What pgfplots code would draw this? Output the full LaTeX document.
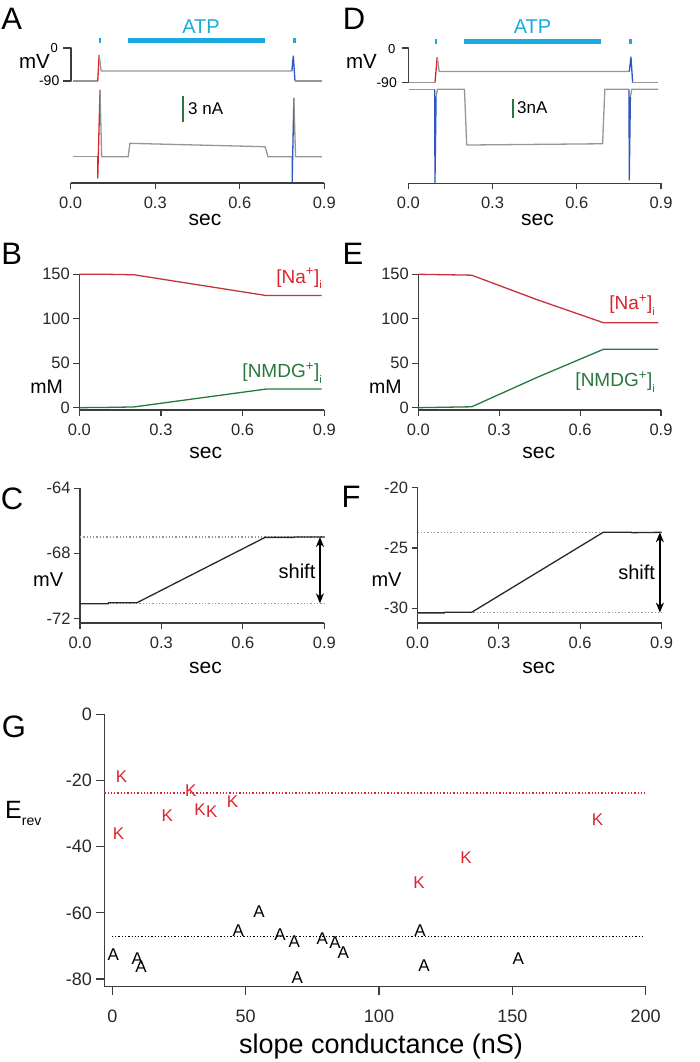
\documentclass[border=0pt]{standalone}
\usepackage{pgfplots}
\pgfplotsset{compat=1.18}
\usepackage{fontspec}
\setmainfont{Liberation Sans}
\usetikzlibrary{arrows.meta}
\definecolor{atp}{RGB}{28,170,222}
\definecolor{trc}{RGB}{150,150,150}
\definecolor{rd}{RGB}{218,36,44}
\definecolor{rdl}{RGB}{196,52,58}
\definecolor{bl}{RGB}{45,85,195}
\definecolor{gn}{RGB}{40,120,62}
\definecolor{axc}{RGB}{60,60,60}
\definecolor{dk}{RGB}{40,40,40}
\definecolor{dotg}{RGB}{150,150,150}
\newcommand{\fs}[1]{\fontsize{#1bp}{#1bp}\selectfont}
\pgfplotsset{
  panel/.style={scale only axis, anchor=south west, clip=false,
    axis x line*=bottom, axis y line*=left,
    axis line style={axc, line width=1.2bp},
    tick style={axc, line width=1.2bp},
    tick align=outside, major tick length=6bp,
    tick label style={text=dk, font=\fs{16.5}},
    xticklabel style={yshift=-4bp},
    xmin=0, xmax=0.9, xtick={0,0.3,0.6,0.9}, xticklabels={0.0,0.3,0.6,0.9},
    every axis plot/.append style={line width=1.3bp, mark=none, line join=round},
  },
  over/.style={scale only axis, anchor=south west, clip=false, hide axis,
    xmin=0, xmax=0.9,
    every axis plot/.append style={line width=1.3bp, mark=none, line join=round},
  },
}
\begin{document}
\begin{tikzpicture}
\useasboundingbox (0,0) rectangle (700bp,1062bp);
% ================= A =================
\begin{axis}[panel, at={(70.7bp,879bp)}, width=253.6bp, height=163bp,
  axis y line=none, ytick=\empty, ymin=-368.2, ymax=76.4]
  \addplot[trc] coordinates {(0.007,-90)(0.096,-90)};
  \addplot[rd] coordinates {(0.096,-90)(0.101,-19)};
  \addplot[trc] coordinates {(0.101,-19)(0.108,-62.7)(0.785,-62.7)};
  \addplot[bl] coordinates {(0.785,-62.7)(0.790,-21.8)(0.796,-90)};
  \addplot[trc] coordinates {(0.796,-90)(0.891,-90)};
  \addplot[atp, line width=5bp] coordinates {(0.204,19.1)(0.690,19.1)};
  \addplot[atp, line width=5bp] coordinates {(0.099,19.1)(0.106,19.1)};
  \addplot[atp, line width=5bp] coordinates {(0.790,19.1)(0.799,19.1)};
  \addplot[axc, line width=1.2bp] coordinates {(-0.027,0)(0.001,0)(0.001,-90)(-0.027,-90)};
\end{axis}
\begin{axis}[over, at={(70.7bp,879bp)}, width=253.6bp, height=163bp,
  ymin=-2.955, ymax=15.36]
  \addplot[trc] coordinates {(0.007,0)(0.096,0)};
  \addplot[rd] coordinates {(0.096,0)(0.096,-2.4)(0.104,7.5)};
  \addplot[trc] coordinates {(0.104,7.5)(0.110,0)(0.204,0)(0.210,1.5)(0.690,1.12)(0.700,0)(0.786,0)};
  \addplot[bl] coordinates {(0.786,0)(0.786,-2.8)(0.792,6.6)};
  \addplot[trc] coordinates {(0.792,6.6)(0.798,0)(0.891,0)};
  \addplot[gn, line width=2bp] coordinates {(0.3975,3.87)(0.3975,6.87)};
\end{axis}
% ================= D =================
\begin{axis}[panel, at={(408.3bp,878.7bp)}, width=252.7bp, height=163.3bp,
  axis y line=none, ytick=\empty, ymin=-353.2, ymax=73.3]
  \addplot[trc] coordinates {(0.004,-90)(0.095,-90)};
  \addplot[rd] coordinates {(0.095,-90)(0.103,-23.6)};
  \addplot[trc] coordinates {(0.103,-23.6)(0.110,-61.3)(0.787,-61.3)};
  \addplot[bl] coordinates {(0.787,-61.3)(0.793,-23.6)(0.799,-90)};
  \addplot[trc] coordinates {(0.799,-90)(0.891,-90)};
  \addplot[atp, line width=5bp] coordinates {(0.198,17.2)(0.685,17.2)};
  \addplot[atp, line width=5bp] coordinates {(0.095,17.2)(0.103,17.2)};
  \addplot[atp, line width=5bp] coordinates {(0.787,17.2)(0.796,17.2)};
  \addplot[axc, line width=1.2bp] coordinates {(-0.0235,0)(0,0)(0,-90)(-0.0235,-90)};
\end{axis}
\begin{axis}[over, at={(408.3bp,878.7bp)}, width=252.7bp, height=163.3bp,
  ymin=-14.84, ymax=10.94]
  \addplot[trc] coordinates {(0.004,0)(0.094,0)};
  \addplot[bl] coordinates {(0.094,0)(0.095,-14.7)(0.099,-1.1)};
  \addplot[trc] coordinates {(0.099,-1.1)(0.104,0)(0.200,0)(0.208,-8.8)(0.692,-8.6)(0.700,0)(0.786,0)};
  \addplot[bl] coordinates {(0.786,0)(0.787,-14.3)(0.791,-1.2)};
  \addplot[trc] coordinates {(0.791,-1.2)(0.796,0)(0.891,0)};
  \addplot[gn, line width=2bp] coordinates {(0.3718,-1.58)(0.3718,-4.58)};
\end{axis}
% ================= B =================
\begin{axis}[panel, at={(79.3bp,652bp)}, width=245bp, height=135.7bp,
  ymin=-2.6, ymax=150, ytick={0,50,100,150}, yticklabels={0,50,100,150}]
  \addplot[rdl] coordinates {(0,150)(0.1,150)(0.2,149.5)(0.685,126.2)(0.89,126.2)};
  \addplot[gn] coordinates {(0,0)(0.1,0.3)(0.2,0.8)(0.688,21)(0.89,21)};
\end{axis}
% ================= E =================
\begin{axis}[panel, at={(418.3bp,652bp)}, width=242.7bp, height=135.7bp,
  ymin=-2.6, ymax=150, ytick={0,50,100,150}, yticklabels={0,50,100,150}]
  \addplot[rdl] coordinates {(0,150)(0.1,149.5)(0.198,149)(0.44,121.5)(0.686,95.6)(0.89,95.6)};
  \addplot[gn] coordinates {(0,0)(0.1,0.5)(0.198,1)(0.44,34)(0.686,65.6)(0.89,65.6)};
\end{axis}
% ================= C =================
\begin{axis}[panel, at={(80bp,439bp)}, width=244.3bp, height=134.7bp,
  ymin=-72.29, ymax=-64, ytick={-72,-68,-64}, yticklabels={-72,-68,-64}]
  \addplot[dotg, dotted, line width=1.1bp] coordinates {(0,-67.0)(0.9,-67.0)};
  \addplot[dotg, dotted, line width=1.1bp] coordinates {(0,-71.08)(0.9,-71.08)};
  \addplot[dk] coordinates {(0,-71.1)(0.104,-71.1)(0.104,-71.05)(0.209,-71.05)(0.682,-67.02)(0.79,-67.02)(0.79,-67.0)(0.9,-67.0)};
  \addplot[black, line width=1.6bp, {Stealth[length=10bp,width=8bp]}-{Stealth[length=10bp,width=8bp]}] coordinates {(0.884,-67.0)(0.884,-71.08)};
\end{axis}
% ================= F =================
\begin{axis}[panel, at={(417.5bp,439bp)}, width=244bp, height=135.3bp,
  ymin=-31.22, ymax=-20, ytick={-30,-25,-20}, yticklabels={-30,-25,-20}]
  \addplot[dotg, dotted, line width=1.1bp] coordinates {(0,-23.7)(0.9,-23.7)};
  \addplot[dotg, dotted, line width=1.1bp] coordinates {(0,-30.36)(0.9,-30.36)};
  \addplot[dk] coordinates {(0,-30.38)(0.1,-30.38)(0.1,-30.33)(0.2,-30.33)(0.685,-23.7)(0.79,-23.7)(0.79,-23.73)(0.9,-23.7)};
  \addplot[black, line width=1.6bp, {Stealth[length=10bp,width=8bp]}-{Stealth[length=10bp,width=8bp]}] coordinates {(0.894,-23.7)(0.894,-30.36)};
\end{axis}
% ================= G =================
\begin{axis}[panel, at={(104.3bp,75.3bp)}, width=541.4bp, height=272.4bp,
  xmin=-3, xmax=200, ymin=-82.3, ymax=0, major tick length=8bp,
  xtick={0,50,100,150,200}, xticklabels={0,50,100,150,200},
  ytick={-80,-60,-40,-20,0}, yticklabels={-80,-60,-40,-20,0},
  tick label style={text=dk, font=\fs{18}},
  xticklabel style={yshift=-8bp}, yticklabel style={xshift=-1bp}]
  \addplot[rd, dotted, line width=1.3bp] coordinates {(-3,-23.8)(199.5,-23.8)};
  \addplot[black, dotted, line width=1.3bp] coordinates {(-0.2,-67.2)(199.5,-67.2)};
  \addplot[draw=none, nodes near coords={K},
    every node near coord/.style={anchor=center, inner sep=0pt, text=rd, font=\fs{17}}]
    coordinates {(3.5,-18.9)(2.3,-36.1)(20.6,-30.5)(29.4,-23.2)(32.9,-28.7)(37.3,-29.3)(45.1,-26.5)(181.9,-31.7)(132.6,-43.3)(115.0,-51.0)};
  \addplot[draw=none, nodes near coords={A},
    every node near coord/.style={anchor=center, inner sep=0pt, text=black, font=\fs{17}}]
    coordinates {(0.4,-72.6)(9.4,-73.7)(10.8,-76.3)(47.2,-65.4)(55.0,-59.5)(62.9,-66.6)(68.2,-68.6)(69.4,-79.5)(78.7,-67.9)(83.5,-69.1)(86.6,-71.9)(115.4,-65.4)(116.9,-76.0)(152.2,-73.7)};
\end{axis}
% ================= text =================
\begin{scope}[every node/.style={inner sep=0pt, text=black}]
\node[font=\fs{31}] at (11.7bp,1043.5bp) {A};
\node[font=\fs{31}] at (354bp,1043.5bp) {D};
\node[font=\fs{31}] at (11.7bp,808bp) {B};
\node[font=\fs{31}] at (353bp,808bp) {E};
\node[font=\fs{31}] at (12bp,563bp) {C};
\node[font=\fs{31}] at (351bp,565bp) {F};
\node[font=\fs{31}] at (14bp,335bp) {G};
% A
\node[font=\fs{20}, text=atp] at (201bp,1035bp) {ATP};
\node[font=\fs{20.5}, anchor=east] at (50bp,1001bp) {mV};
\node[font=\fs{13}] at (54.3bp,1014bp) {0};
\node[font=\fs{14}, anchor=east] at (59.5bp,981bp) {-90};
\node[font=\fs{17}, anchor=west] at (188bp,953.7bp) {3 nA};
\node[font=\fs{21}] at (205bp,842bp) {sec};
% D
\node[font=\fs{20}, text=atp] at (532.5bp,1035bp) {ATP};
\node[font=\fs{20.5}, anchor=east] at (377bp,1000.3bp) {mV};
\node[font=\fs{13}] at (391.7bp,1013bp) {0};
\node[font=\fs{14}, anchor=east] at (397bp,979.3bp) {-90};
\node[font=\fs{17}, anchor=west] at (517bp,954.3bp) {3nA};
\node[font=\fs{21}] at (537.5bp,842bp) {sec};
% B
\node[font=\fs{19}, text=rd, anchor=base east] at (322bp,778.7bp) {[Na\textsuperscript{+}]\raisebox{-0.3em}{\fs{11}i}};
\node[font=\fs{19}, text=gn, anchor=base east] at (322bp,684.3bp) {[NMDG\textsuperscript{+}]\raisebox{-0.3em}{\fs{11}i}};
\node[font=\fs{19.5}, anchor=base east] at (63bp,668.7bp) {mM};
\node[font=\fs{21}] at (205.8bp,608.7bp) {sec};
% E
\node[font=\fs{19}, text=rd, anchor=base east] at (655bp,752bp) {[Na\textsuperscript{+}]\raisebox{-0.3em}{\fs{11}i}};
\node[font=\fs{19}, text=gn, anchor=base east] at (655bp,675.3bp) {[NMDG\textsuperscript{+}]\raisebox{-0.3em}{\fs{11}i}};
\node[font=\fs{19.5}, anchor=base east] at (401.7bp,668.7bp) {mM};
\node[font=\fs{21}] at (538.7bp,608.7bp) {sec};
% C
\node[font=\fs{20}] at (297bp,490.3bp) {shift};
\node[font=\fs{20}, anchor=base east] at (63.3bp,475.3bp) {mV};
\node[font=\fs{21}] at (205.5bp,393.7bp) {sec};
% F
\node[font=\fs{20}] at (636.7bp,489.7bp) {shift};
\node[font=\fs{20}, anchor=base east] at (401.7bp,475.3bp) {mV};
\node[font=\fs{21}] at (538.7bp,393.7bp) {sec};
% G
\node[font=\fs{25}, anchor=base west] at (5bp,243.7bp) {E\raisebox{-0.3em}{\fs{14}rev}};
\node[font=\fs{27}, anchor=base] at (381bp,8.7bp) {slope conductance (nS)};
\end{scope}
\end{tikzpicture}
\end{document}
